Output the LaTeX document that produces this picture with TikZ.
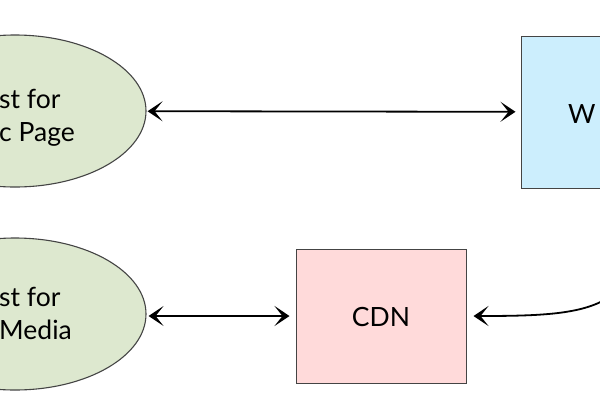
\documentclass[tikz,border=0pt]{standalone}
\usepackage{fontspec}
\setmainfont{Lato}
\usetikzlibrary{shapes.geometric,arrows.meta}
\definecolor{reqgreen}{HTML}{DDE8CF}
\definecolor{webblue}{HTML}{CCEEFD}
\definecolor{cdnpink}{HTML}{FFDADA}
\definecolor{edgegray}{HTML}{444444}
\tikzset{
	barb/.tip={Stealth[length=15pt,width=20pt,inset=8pt]},
	request/.style={ellipse, draw=edgegray, line width=1.1pt, fill=reqgreen, minimum width=262pt, minimum height=152pt},
	serverbox/.style={rectangle, draw=edgegray, line width=1pt, minimum width=170pt},
	caption/.style={inner sep=0pt, align=left, font=\fontsize{26.5}{33}\selectfont},
	link/.style={line width=1.8pt, {barb}-{barb}},
	onelink/.style={line width=1.8pt, -{barb}}
}
\begin{document}
\begin{tikzpicture}[x=1pt,y=-1pt]
		\useasboundingbox (0,0) rectangle (600,400);
		\clip (0,0) rectangle (600,400);
		%requests
		\node[request] (static) at (15,111) {};
		\node[request] (media) at (15,314) {};
		\node[caption, anchor=west] (statictext) at (-1,118) {st for\\c Page};
		\node[caption, anchor=west] (mediatext) at (-1,313) {st for\\Media};
		%servers
		\node[serverbox, fill=webblue, minimum width=238pt, minimum height=152pt] (web) at (640,112) {};
		\node[serverbox, fill=cdnpink, minimum height=134pt] (cdn) at (381,316) {};
		\node[caption, anchor=base west] (webtext) at (568,123) {W};
		\node[caption] (cdntext) at (381,317) {CDN};
		%connectors
		\draw[link, shorten <=1pt, shorten >=5pt] (static) -- (web);
		\draw[link, shorten <=2pt, shorten >=6pt] (media.east |- cdn.west) -- (cdn.west);
		\draw[onelink, shorten >=7pt] (web.south) .. controls (648,310) and (600,316) .. (cdn.east);
\end{tikzpicture}
\end{document}
